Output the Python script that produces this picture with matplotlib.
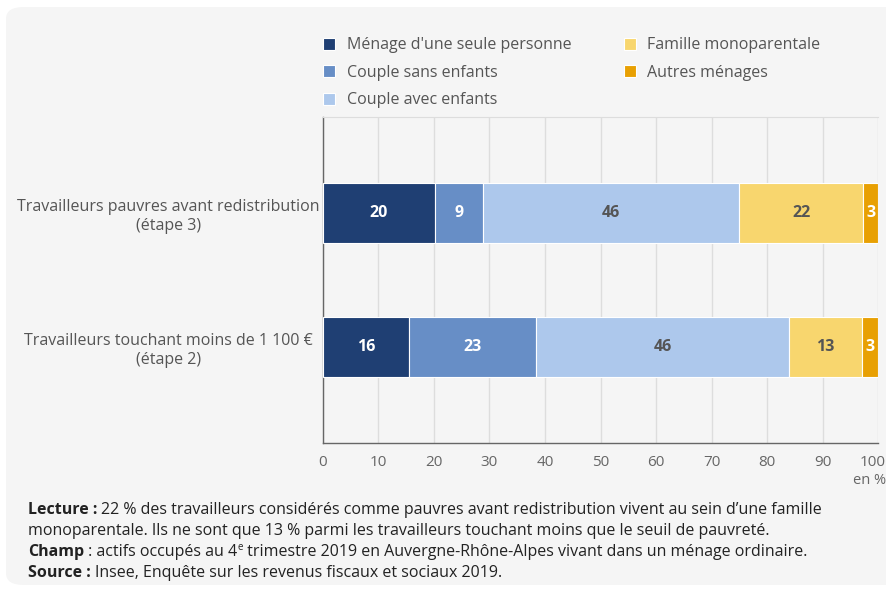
import matplotlib
matplotlib.use("Agg")
import matplotlib.pyplot as plt
import matplotlib.transforms as mtransforms
from matplotlib.patches import FancyBboxPatch
import numpy as np

plt.rcParams['font.family'] = ['Open Sans', 'DejaVu Sans']

categories = ["Travailleurs touchant moins de 1 100 €\n(étape 2)",
              "Travailleurs pauvres avant redistribution\n(étape 3)"]
series_names = ["Ménage d'une seule personne", "Couple sans enfants",
                "Couple avec enfants", "Famille monoparentale", "Autres ménages"]
# values per series: [étape 2, étape 3]
menage_seul = [15.5, 20.2]
couple_sans = [22.9, 8.6]
couple_avec = [45.6, 46.2]
famille_mono = [13.1, 22.3]
autres = [2.9, 2.7]
# displayed (rounded) labels
labels_menage_seul = ["16", "20"]
labels_couple_sans = ["23", "9"]
labels_couple_avec = ["46", "46"]
labels_famille_mono = ["13", "22"]
labels_autres = ["3", "3"]
xticks = [0, 10, 20, 30, 40, 50, 60, 70, 80, 90, 100]

series = [menage_seul, couple_sans, couple_avec, famille_mono, autres]
series_labels = [labels_menage_seul, labels_couple_sans, labels_couple_avec,
                 labels_famille_mono, labels_autres]
colors = ["#1f3f73", "#678ec6", "#adc8ec", "#f8d66e", "#e8a003"]
text_colors = ["white", "white", "#555555", "#555555", "white"]

W, H = 887, 590
fig = plt.figure(figsize=(W / 100, H / 100), dpi=100)
fig.patch.set_facecolor("white")

bg = FancyBboxPatch((6 / W, 5 / H), (W + 20) / W, (H - 12) / H,
                    boxstyle="round,pad=0,rounding_size=0.02",
                    transform=fig.transFigure, facecolor="#f5f5f5",
                    edgecolor="none", zorder=-10)
fig.patches.append(bg)

ax = fig.add_axes([323 / W, (H - 443) / H, (878 - 323) / W, (443 - 117) / H])
ax.patch.set_alpha(0)
ax.set_zorder(2)

y = np.arange(len(categories))
left = np.zeros(len(categories))
handles = []
for vals, labs, col, tcol, name in zip(series, series_labels, colors, text_colors, series_names):
    b = ax.barh(y, vals, left=left, height=0.448, color=col, edgecolor="white",
                linewidth=0.8, label=name, zorder=3)
    handles.append(b)
    for yi, v, l, lab in zip(y, vals, left, labs):
        ax.text(l + v / 2, yi, lab, ha="center", va="center", color=tcol,
                fontsize=11.5, fontweight="bold", zorder=4)
    left = left + np.array(vals)

ax.set_xlim(0, 100)
ax.set_ylim(-0.716, 1.716)
ax.set_xticks(xticks)
ax.set_xticklabels([str(t) for t in xticks], color="#666666", fontsize=11)
ax.set_yticks(y)
ax.set_yticklabels(categories, color="#555555", fontsize=11.5, ha="center",
                   linespacing=1.25)
ax.tick_params(axis="y", length=0, pad=2)
for lab in ax.get_yticklabels():
    lab.set_x(-0.273)
ax.tick_params(axis="x", length=0, pad=9)
# keep the last tick label inside the figure, as in the reference
last = ax.get_xticklabels()[-1]
last.set_transform(last.get_transform() +
                   mtransforms.ScaledTranslation(-5 / 100, 0, fig.dpi_scale_trans))
ax.grid(axis="x", color="#dddddd", linewidth=1, zorder=0)
ax.set_axisbelow(True)
for s in ["left", "bottom"]:
    ax.spines[s].set_color("#666666")
    ax.spines[s].set_linewidth(1)
ax.spines["top"].set_color("#dddddd")
ax.spines["right"].set_visible(False)

fig.text(886 / W, (H - 481) / H, "en %", ha="right", va="center",
         color="#666666", fontsize=10.5)

leg = fig.legend(handles=handles, labels=series_names, ncol=2,
                 loc="upper left", bbox_to_anchor=(309 / W, (H - 23) / H),
                 frameon=False, fontsize=11.5, handlelength=0.75,
                 handleheight=0.75, handletextpad=0.7, columnspacing=3.3,
                 labelspacing=0.72, labelcolor="#555555")

# footer with mixed bold / normal
fig.canvas.draw()
renderer = fig.canvas.get_renderer()
fs = 11.5
lines = [
    [("Lecture : ", "bold"), ("22 % des travailleurs considérés comme pauvres avant redistribution vivent au sein d’une famille", "normal")],
    [("monoparentale. Ils ne sont que 13 % parmi les travailleurs touchant moins que le seuil de pauvreté.", "normal")],
    [("Champ", "bold"), (" : actifs occupés au 4", "normal"), ("e", "sup"), (" trimestre 2019 en Auvergne-Rhône-Alpes vivant dans un ménage ordinaire.", "normal")],
    [("Source : ", "bold"), ("Insee, Enquête sur les revenus fiscaux et sociaux 2019.", "normal")],
]
ys = [514, 535, 556, 577]
for parts, yp in zip(lines, ys):
    x = 28
    for txt, kind in parts:
        if kind == "sup":
            t = fig.text(x / W, (H - yp + 6) / H, txt, fontsize=7, color="#222222",
                         va="baseline", ha="left")
        else:
            t = fig.text(x / W, (H - yp) / H, txt, fontsize=fs, color="#222222",
                         fontweight=kind, va="baseline", ha="left")
        bb = t.get_window_extent(renderer)
        x += bb.width

fig.savefig("out.png", dpi=100, facecolor="white")
